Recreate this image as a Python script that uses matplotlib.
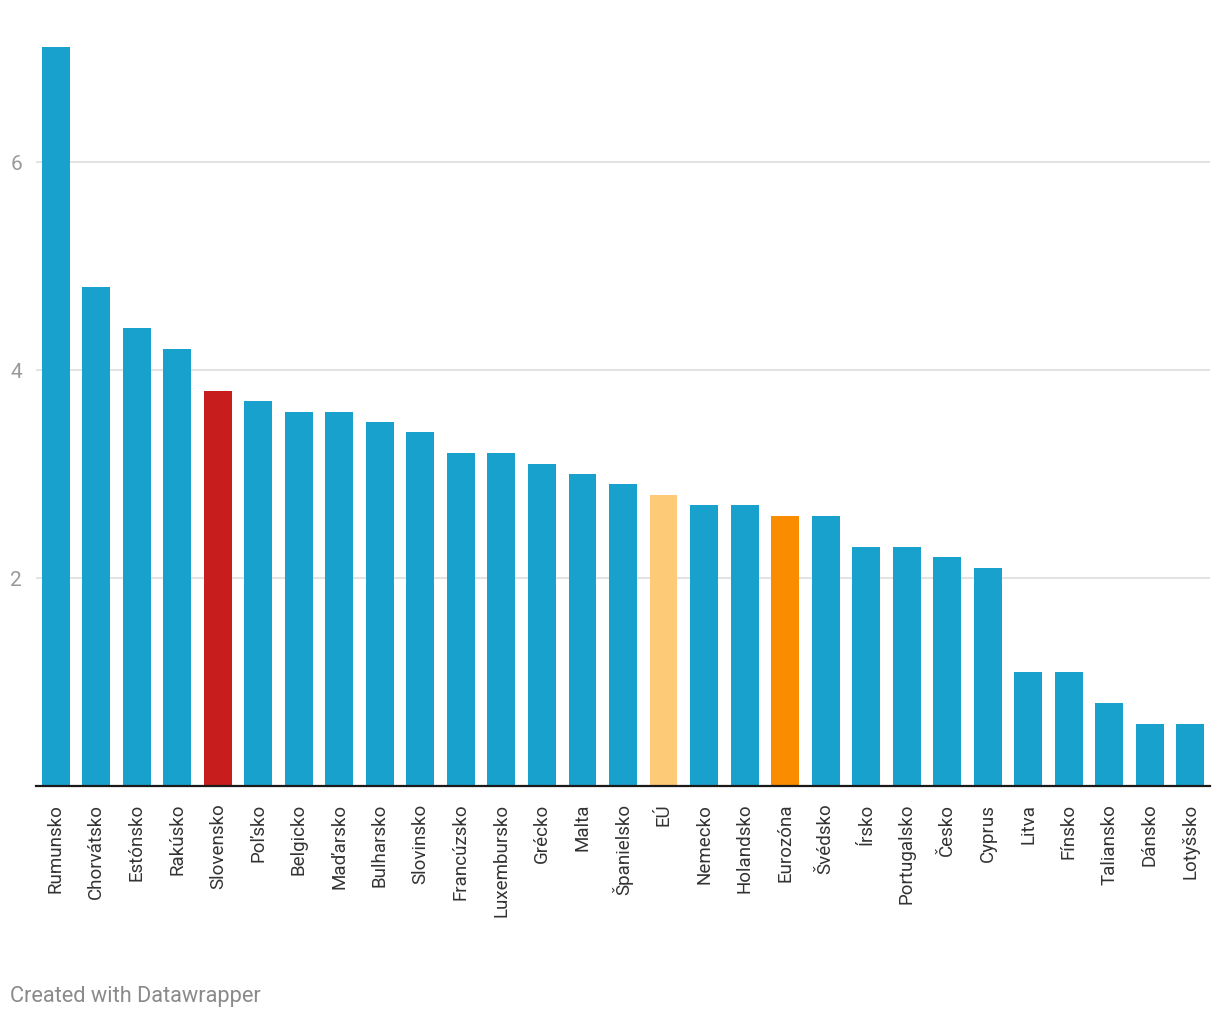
import matplotlib.pyplot as plt

plt.rcParams['font.family'] = ['Roboto', 'DejaVu Sans']

# Data
countries = ['Rumunsko', 'Chorvátsko', 'Estónsko', 'Rakúsko', 'Slovensko', 'Poľsko',
             'Belgicko', 'Maďarsko', 'Bulharsko', 'Slovinsko', 'Francúzsko', 'Luxembursko',
             'Grécko', 'Malta', 'Španielsko', 'EÚ', 'Nemecko', 'Holandsko', 'Eurozóna',
             'Švédsko', 'Írsko', 'Portugalsko', 'Česko', 'Cyprus', 'Litva', 'Fínsko',
             'Taliansko', 'Dánsko', 'Lotyšsko']
values = [7.1, 4.8, 4.4, 4.2, 3.8, 3.7, 3.6, 3.6, 3.5, 3.4, 3.2, 3.2, 3.1, 3.0, 2.9,
          2.8, 2.7, 2.7, 2.6, 2.6, 2.3, 2.3, 2.2, 2.1, 1.1, 1.1, 0.8, 0.6, 0.6]
highlight = {'Slovensko': '#c71e1d', 'EÚ': '#fdca77', 'Eurozóna': '#fa8c00'}
yticks = [2, 4, 6]

colors = [highlight.get(c, '#18a1cd') for c in countries]

fig = plt.figure(figsize=(12.2, 10.2), dpi=100)
ax = fig.add_axes([36 / 1220, 233 / 1020, 1174 / 1220, 749 / 1020])

x = range(len(countries))
ax.bar(x, values, width=0.69, color=colors, zorder=2)

ax.set_xlim(-0.49, len(countries) - 0.51)
ax.set_ylim(0, 7.2)
ax.set_yticks(yticks)
ax.set_yticklabels([str(t) for t in yticks], fontsize=15, color='#999999')
ax.yaxis.grid(True, color='#e3e3e3', linewidth=1.5, zorder=0)
ax.tick_params(axis='y', length=0, pad=10)

ax.set_xticks(list(x))
ax.set_xticklabels(countries, rotation=90, fontsize=13.5, color='#333333', va='top', ha='center')
ax.tick_params(axis='x', length=0, pad=12)

for side in ['top', 'right', 'left']:
    ax.spines[side].set_visible(False)
ax.spines['bottom'].set_color('#1a1a1a')
ax.spines['bottom'].set_linewidth(1.6)
ax.spines['bottom'].set_zorder(3)

fig.text(10 / 1220, 1 - 997 / 1020, 'Created with Datawrapper', fontsize=15.7,
         color='#8a8a8a', va='center', ha='left')

fig.savefig('out.png', dpi=100)
